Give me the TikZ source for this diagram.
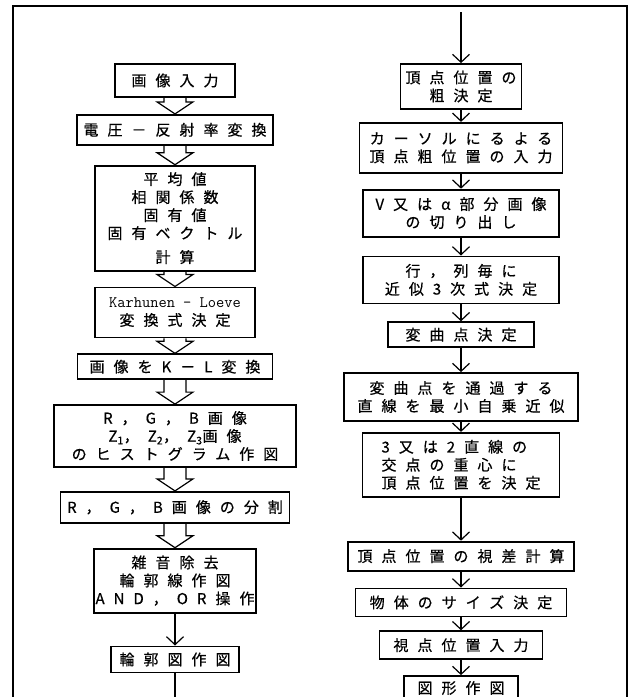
\documentclass[tikz,border=0pt]{standalone}
\usepackage{fontspec}
\newfontfamily\jp[LetterSpace=60, FakeBold=0.6]{Noto Sans CJK JP}
\usepackage{tikz}
\usetikzlibrary{arrows.meta,positioning,calc}

\newcommand{\fatarrow}[2]{%
  \draw[hollow] ($(#1.south)+(-11,0)$) -- ($(#2.north)+(-11,-12)$) -- ($(#2.north)+(-18,-12)$)
    -- (#2.north) -- ($(#2.north)+(18,-12)$) -- ($(#2.north)+(11,-12)$) -- ($(#1.south)+(11,0)$);}

\begin{document}
\begin{tikzpicture}[
    x=1pt, y=-1pt,
    box/.style 2 args={rectangle, draw, line width=1.8pt, inner sep=0pt,
      minimum width=#1pt, minimum height=#2pt, align=center,
      font=\jp\fontsize{15}{18}\selectfont},
    arrow/.style={-{Straight Barb[length=8pt,width=17pt]}, line width=1.2pt},
    hollow/.style={line width=1.2pt, line join=miter},
    frame/.style={line width=1.5pt}
]
\useasboundingbox (0,0) rectangle (635,697);
\draw[frame] (13,697) -- (13,6) -- (627,6) -- (627,697);

\node[box={120}{33}] (img) at (175,80.5) {画像入力};
\node[box={196}{30}, below=16pt of img] (refl) {電圧－反射率変換};
\node[box={160}{105}, below=19pt of refl] (stat) {平均値\\相関係数\\固有値\\固有ベクトル\\[6pt]計算};
\node[box={160}{50}, below=15pt of stat] (kl) {{\ttfamily\fontsize{16}{18}\selectfont Karhunen - Loeve}\\変換式決定};
\node[box={195}{25}, below=15pt of kl] (klt) {画像をK－L変換};
\node[box={242}{62}, below=24pt of klt] (hist) {R，G，B画像\\Z\textsubscript{1}，Z\textsubscript{2}，Z\textsubscript{3}画像\\のヒストグラム作図};
\node[box={229}{31}, below=23pt of hist] (split) {R，G，B画像の分割};
\node[box={162}{64}, below=24pt of split] (noise) {雑音除去\\輪郭線作図\\AND，OR操作};
\node[box={128}{26}, below=32pt of noise] (cont) {輪郭図作図};
\coordinate[below=24pt of cont] (contout);

\fatarrow{img}{refl}
\fatarrow{refl}{stat}
\fatarrow{stat}{kl}
\fatarrow{kl}{klt}
\fatarrow{klt}{hist}
\fatarrow{hist}{split}
\fatarrow{split}{noise}
\draw[arrow] (noise) -- (cont);
\draw[line width=1.2pt] (cont) -- (contout);

\node[box={121}{45}] (rough) at (461,86.5) {頂点位置の\\粗決定};
\coordinate[above=51pt of rough] (roughin);
\node[box={203}{50}, below=12pt of rough] (cursor) {カーソルにるよる\\頂点粗位置の入力};
\node[box={196}{47}, below=15pt of cursor] (cut) {V又はα部分画像\\の切り出し};
\node[box={196}{47}, below=18pt of cut] (cubic) {行，列毎に\\近似3次式決定};
\node[box={146}{25}, below=17pt of cubic] (infl) {変曲点決定};
\node[box={234}{48}, below=24pt of infl] (lsq) {変曲点を通過する\\直線を最小自乗近似};
\node[box={197}{64}, below=10pt of lsq, align=left] (vert) {3又は2直線の\\交点の重心に\\頂点位置を決定};
\node[box={226}{29}, below=43pt of vert] (para) {頂点位置の視差計算};
\node[box={211}{28}, below=16pt of para] (size) {物体のサイズ決定};
\node[box={163}{28}, below=13pt of size] (view) {視点位置入力};
\node[box={114}{24}, below=15pt of view] (draw) {図形作図};

\draw[arrow] (roughin) -- (rough);
\draw[arrow] (rough) -- (cursor);
\draw[arrow] (cursor) -- (cut);
\draw[arrow] (cut) -- (cubic);
\draw[arrow] (cubic) -- (infl);
\draw[arrow] (infl) -- (lsq);
\draw[arrow] (lsq) -- (vert);
\draw[arrow] (vert) -- (para);
\draw[arrow] (para) -- (size);
\draw[arrow] (size) -- (view);
\draw[arrow] (view) -- (draw);
\end{tikzpicture}
\end{document}
